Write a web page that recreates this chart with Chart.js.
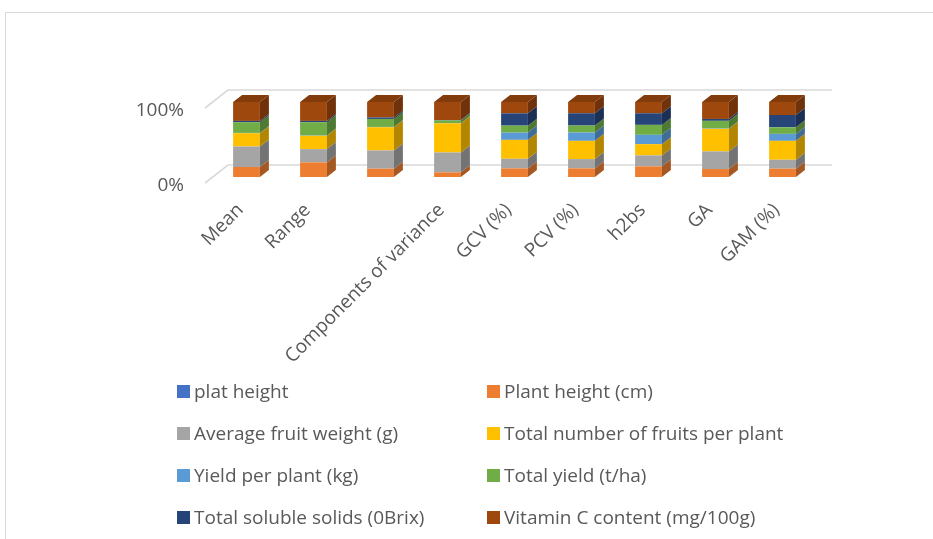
<!DOCTYPE html>
<html>
<head>
<meta charset="utf-8">
<script src="https://cdn.jsdelivr.net/npm/chart.js@4"></script>
<style>
  html, body { margin: 0; padding: 0; background: #fff; }
  #wrap { position: relative; width: 933px; height: 539px; overflow: hidden; font-family: "Open Sans", sans-serif; }
  #frame { position: absolute; left: 5px; top: 12px; width: 1000px; height: 600px;
           border-left: 1.5px solid #d9d9d9; border-top: 1.5px solid #d9d9d9; }
  #cv { position: absolute; left: 0; top: 0; }
  .lg { position: absolute; display: flex; align-items: center; height: 24px; margin-top: -12px;
        font-size: 19px; color: #595959; white-space: nowrap; }
  .lg .box { width: 13px; height: 13px; margin-right: 4px; flex: none; }
</style>
</head>
<body>
<div id="wrap">
  <div id="frame"></div>
  <canvas id="cv" width="933" height="539"></canvas>
  <div id="legend"></div>
</div>
<script>
// Categories (the third one is an empty column in the source sheet)
const categories = ['Mean', 'Range', '', 'Components of variance', 'GCV (%)', 'PCV (%)', 'h2bs', 'GA', 'GAM (%)'];

const seriesNames = [
  'plat height',
  'Plant height (cm)',
  'Average fruit weight (g)',
  'Total number of fruits per plant',
  'Yield per plant (kg)',
  'Total yield (t/ha)',
  'Total soluble solids (0Brix)',
  'Vitamin C content (mg/100g)'
];
const seriesColors = ['#4472C4', '#ED7D31', '#A5A5A5', '#FFC000', '#5B9BD5', '#70AD47', '#264478', '#9E480E'];

// Share of each trait within a column (percent)
const platHeight     = [0, 0, 0, 0, 0, 0, 0, 0, 0];
const plantHeight    = [13.3, 19.5, 11.1, 6.2, 11.5, 11.5, 14.2, 10.6, 11.1];
const avgFruitWeight = [27.4, 17.7, 24.3, 26.5, 12.8, 12.4, 14.6, 23.5, 11.9];
const fruitsPerPlant = [17.7, 17.7, 31.0, 38.9, 25.2, 24.3, 15.0, 30.1, 25.2];
const yieldPerPlant  = [0.4, 0.4, 0.4, 0.3, 9.7, 11.1, 12.4, 0.5, 9.3];
const totalYield     = [14.2, 17.7, 10.6, 3.5, 9.3, 9.3, 13.3, 10.2, 8.8];
const solubleSolids  = [1.8, 1.8, 2.0, 0.5, 16.4, 16.4, 15.5, 2.5, 16.4];
const vitaminC       = [25.2, 25.2, 20.6, 24.1, 15.1, 15.0, 15.0, 22.6, 17.3];

const yTickValues = [0, 100];

const seriesValues = [platHeight, plantHeight, avgFruitWeight, fruitsPerPlant,
                      yieldPerPlant, totalYield, solubleSolids, vitaminC];

// 100% stacking: each column scaled to its own total
const totals = categories.map((_, i) => seriesValues.reduce((s, arr) => s + arr[i], 0));
const percentOf = arr => arr.map((v, i) => totals[i] ? v / totals[i] * 100 : 0);

const FONT = { family: '"Open Sans", sans-serif', size: 19 };
const TEXT = '#595959';
const DX = 9, DY = 7;   // depth of the 3-D columns

function shade(hex, f) {
  const n = parseInt(hex.slice(1), 16);
  const r = Math.round(((n >> 16) & 255) * f);
  const g = Math.round(((n >> 8) & 255) * f);
  const b = Math.round((n & 255) * f);
  return `rgb(${r},${g},${b})`;
}

const depthPlugin = {
  id: 'depth3d',
  beforeDatasetsDraw(chart) {
    const { ctx, chartArea: a, scales: { y } } = chart;
    ctx.save();
    ctx.strokeStyle = '#d9d9d9';
    ctx.lineWidth = 1.6;
    yTickValues.forEach(v => {
      const py = y.getPixelForValue(v);
      ctx.beginPath();
      ctx.moveTo(a.left - 8, py + 6);
      ctx.lineTo(a.left + 15, py - 12);
      ctx.lineTo(a.right + 16, py - 12);
      ctx.stroke();
    });
    ctx.restore();
  },
  afterDatasetsDraw(chart) {
    const ctx = chart.ctx;
    const n = chart.data.datasets.length;
    ctx.save();
    chart.data.labels.forEach((_, i) => {
      let top = null, topColor = null;
      for (let d = 0; d < n; d++) {
        const el = chart.getDatasetMeta(d).data[i];
        if (!el) continue;
        const p = el.getProps(['x', 'y', 'base', 'width'], true);
        if (Math.abs(p.base - p.y) < 0.01) continue;
        const col = chart.data.datasets[d].backgroundColor;
        const x2 = p.x + p.width / 2;
        ctx.fillStyle = shade(col, 0.7);
        ctx.beginPath();
        ctx.moveTo(x2, p.y);
        ctx.lineTo(x2 + DX, p.y - DY);
        ctx.lineTo(x2 + DX, p.base - DY);
        ctx.lineTo(x2, p.base);
        ctx.closePath();
        ctx.fill();
        if (!top || p.y < top.y) { top = p; topColor = col; }
      }
      if (top) {
        const x1 = top.x - top.width / 2, x2 = top.x + top.width / 2;
        ctx.fillStyle = shade(topColor, 0.82);
        ctx.beginPath();
        ctx.moveTo(x1, top.y);
        ctx.lineTo(x1 + DX, top.y - DY);
        ctx.lineTo(x2 + DX, top.y - DY);
        ctx.lineTo(x2, top.y);
        ctx.closePath();
        ctx.fill();
      }
    });
    ctx.restore();
  }
};

const chart = new Chart(document.getElementById('cv'), {
  type: 'bar',
  data: {
    labels: categories,
    datasets: seriesValues.map((arr, k) => ({
      label: seriesNames[k],
      data: percentOf(arr),
      backgroundColor: seriesColors[k],
      borderWidth: 0,
      categoryPercentage: 1,
      barPercentage: 0.4
    }))
  },
  options: {
    responsive: false,
    animation: false,
    devicePixelRatio: 1,
    layout: { padding: { left: 0, right: 117, top: 102, bottom: 0 } },
    plugins: { legend: { display: false }, tooltip: { enabled: false } },
    scales: {
      x: {
        stacked: true,
        grid: { display: false },
        border: { display: false },
        ticks: { color: TEXT, font: FONT, minRotation: 45, maxRotation: 45, autoSkip: false,
                 padding: 14, labelOffset: -6 },
        afterFit(s) { s.height = 362; }
      },
      y: {
        stacked: true,
        min: 0,
        max: 100,
        grid: { display: false },
        border: { display: false },
        afterBuildTicks(s) { s.ticks = yTickValues.map(v => ({ value: v })); },
        ticks: { color: TEXT, font: FONT, padding: 21, labelOffset: 9, callback: v => v + '%' },
        afterFit(s) { s.width = 213; }
      }
    }
  },
  plugins: [depthPlugin]
});

// Two-column legend built from the datasets
const legend = document.getElementById('legend');
chart.data.datasets.forEach((ds, k) => {
  const row = Math.floor(k / 2), col = k % 2;
  const item = document.createElement('div');
  item.className = 'lg';
  item.style.left = (col ? 487 : 177) + 'px';
  item.style.top = (391 + row * 42) + 'px';
  const box = document.createElement('span');
  box.className = 'box';
  box.style.background = ds.backgroundColor;
  const txt = document.createElement('span');
  txt.textContent = ds.label;
  item.appendChild(box);
  item.appendChild(txt);
  legend.appendChild(item);
});
</script>
</body>
</html>
